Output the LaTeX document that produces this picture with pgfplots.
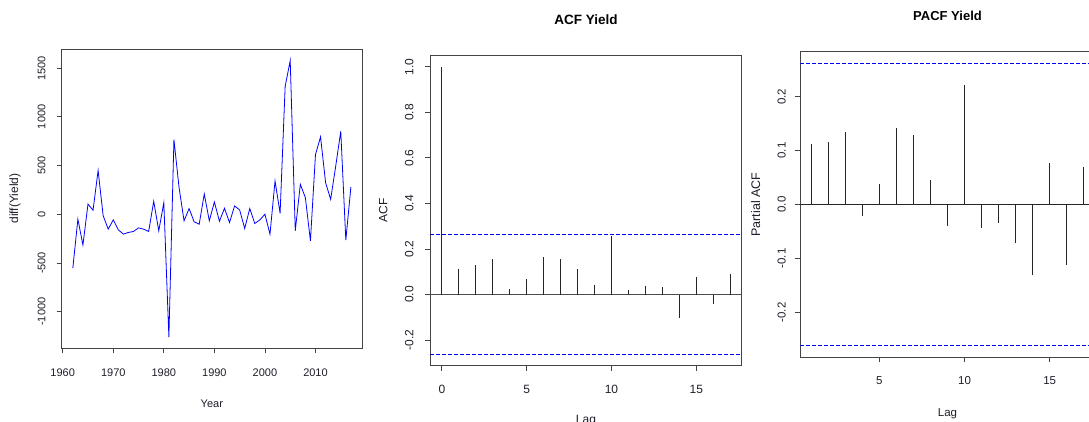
\documentclass[border=0pt]{standalone}
\usepackage{fontspec}
\setmainfont{Liberation Sans}
\usepackage{pgfplots}
\pgfplotsset{compat=1.18}
\definecolor{rtext}{HTML}{1E1E2A}
\definecolor{rbox}{HTML}{444444}

\pgfplotsset{
  rstyle/.style={
    scale only axis, anchor=south west,
    axis line style={rbox, line width=0.9pt},
    tick style={rbox, line width=0.8pt},
    tick align=outside, major tick length=5pt,
    xtick pos=lower, ytick pos=left,
    minor tick num=0,
    every tick label/.append style={text=rtext},
    label style={text=rtext},
    title style={text=black, yshift=-6pt, font=\bfseries\fontsize{13.5}{15}\selectfont},
  },
  cistyle/.style={color=blue, line width=0.9pt, dash pattern=on 4pt off 2pt, mark=none},
}

\begin{document}
\begin{tikzpicture}
\useasboundingbox (0pt,0pt) rectangle (1089pt,421pt);
\clip (0pt,0pt) rectangle (1089pt,421pt);

% panel 1: differenced series
\begin{axis}[rstyle,
  at={(61.7pt,73pt)}, width=300.3pt, height=298.7pt,
  xmin=1959.8, xmax=2019.2, ymin=-1373.6, ymax=1693.6,
  xtick={1960,1970,1980,1990,2000,2010},
  xticklabels={1960,1970,1980,1990,2000,2010},
  ytick={-1000,-500,0,500,1000,1500},
  yticklabels={-1000,-500,0,500,1000,1500},
  font=\fontsize{11}{13}\selectfont,
  xticklabel style={anchor=center, yshift=-19.3pt},
  yticklabel style={xshift=-15pt, rotate=90, anchor=center},
  xlabel={Year}, ylabel={diff(Yield)},
  xlabel style={at={(axis description cs:0.5,-0.1851)}, anchor=center},
  ylabel style={at={(axis description cs:-0.1555,0.5)}, anchor=center, font=\fontsize{12}{14}\selectfont},
]
\addplot[blue, line width=0.8pt, mark=none] coordinates {
(1962,-554) (1963,-51) (1964,-316) (1965,104) (1966,41) (1967,449)
(1968,-15) (1969,-153) (1970,-58) (1971,-160) (1972,-204) (1973,-187)
(1974,-177) (1975,-140) (1976,-153) (1977,-177) (1978,133) (1979,-170)
(1980,119) (1981,-1261) (1982,767) (1983,280) (1984,-68) (1985,58)
(1986,-78) (1987,-102) (1988,208) (1989,-68) (1990,126) (1991,-72)
(1992,61) (1993,-85) (1994,85) (1995,44) (1996,-146) (1997,58)
(1998,-95) (1999,-58) (2000,0) (2001,-204) (2002,341) (2003,10)
(2004,1312) (2005,1578) (2006,-170) (2007,307) (2008,170) (2009,-273)
(2010,613) (2011,794) (2012,324) (2013,153) (2014,494) (2015,852)
(2016,-266) (2017,279)
};
\end{axis}

% panel 2: ACF
\begin{axis}[rstyle,
  at={(430.3pt,55.3pt)}, width=311.4pt, height=310.4pt,
  xmin=-0.68, xmax=17.68, ymin=-0.3125, ymax=1.0505,
  xtick={0,5,10,15}, xticklabels={0,5,10,15},
  ytick={-0.2,0,0.2,0.4,0.6,0.8,1.0},
  yticklabels={-0.2,0.0,0.2,0.4,0.6,0.8,1.0},
  font=\fontsize{12}{14}\selectfont,
  xticklabel style={anchor=center, yshift=-18.6pt},
  yticklabel style={xshift=-16pt, rotate=90, anchor=center},
  title={ACF Yield}, xlabel={Lag}, ylabel={ACF},
  title style={at={(axis description cs:0.5,1.116)}, anchor=center},
  xlabel style={at={(axis description cs:0.5,-0.178)}, anchor=center},
  ylabel style={at={(axis description cs:-0.1509,0.5)}, anchor=center},
]
\addplot[black!70, line width=1.4pt, mark=none] coordinates {(-0.68,0) (17.68,0)};
\addplot[cistyle] coordinates {(-0.68,0.262) (17.68,0.262)};
\addplot[cistyle] coordinates {(-0.68,-0.262) (17.68,-0.262)};
\addplot[ycomb, black!85, line width=0.8pt, mark=none] coordinates {
(0,1.000) (1,0.114) (2,0.129) (3,0.158) (4,0.023) (5,0.069) (6,0.166)
(7,0.158) (8,0.110) (9,0.041) (10,0.255) (11,0.021) (12,0.038) (13,0.035)
(14,-0.101) (15,0.079) (16,-0.043) (17,0.088)
};
\end{axis}

% panel 3: PACF
\begin{axis}[rstyle,
  at={(800.3pt,63.7pt)}, width=294.4pt, height=305.6pt,
  xmin=0.36, xmax=17.64, ymin=-0.2833, ymax=0.2833,
  xtick={5,10,15}, xticklabels={5,10,15},
  ytick={-0.2,-0.1,0,0.1,0.2},
  yticklabels={-0.2,-0.1,0.0,0.1,0.2},
  font=\fontsize{11.5}{13.5}\selectfont,
  xticklabel style={anchor=center, yshift=-18.7pt},
  yticklabel style={xshift=-13.6pt, rotate=90, anchor=center},
  title={PACF Yield}, xlabel={Lag}, ylabel={Partial ACF},
  title style={at={(axis description cs:0.5,1.118)}, anchor=center, font=\bfseries\fontsize{13}{15}\selectfont},
  xlabel style={at={(axis description cs:0.5,-0.1832)}, anchor=center},
  ylabel style={at={(axis description cs:-0.1515,0.5)}, anchor=center, font=\fontsize{12.5}{14}\selectfont},
]
\addplot[black!85, line width=0.9pt, mark=none] coordinates {(0.36,0) (17.64,0)};
\addplot[cistyle] coordinates {(0.36,0.262) (17.64,0.262)};
\addplot[cistyle] coordinates {(0.36,-0.262) (17.64,-0.262)};
\addplot[ycomb, black!85, line width=0.8pt, mark=none] coordinates {
(1,0.112) (2,0.115) (3,0.135) (4,-0.021) (5,0.038) (6,0.141) (7,0.128)
(8,0.045) (9,-0.040) (10,0.221) (11,-0.043) (12,-0.034) (13,-0.072)
(14,-0.131) (15,0.077) (16,-0.112) (17,0.070)
};
\end{axis}
\end{tikzpicture}
\end{document}
